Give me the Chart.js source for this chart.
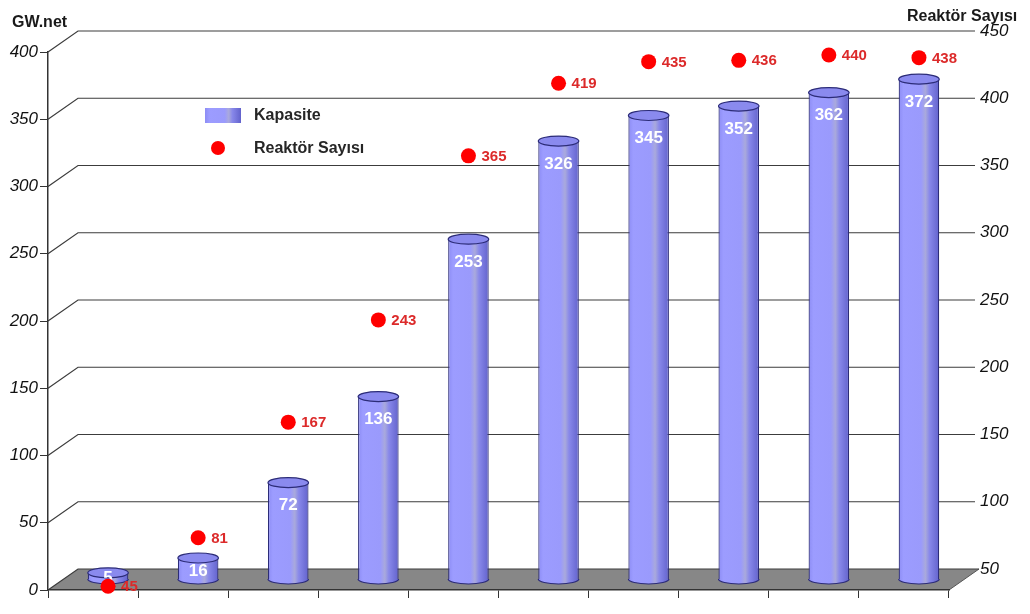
<!DOCTYPE html>
<html>
<head>
<meta charset="utf-8">
<title>Kapasite / Reaktör Sayısı</title>
<script src="https://cdn.jsdelivr.net/npm/chart.js@4.4.0/dist/chart.umd.min.js"></script>
<style>
  html, body { margin: 0; padding: 0; background: #fff; }
  #wrap { width: 1030px; height: 614px; }
</style>
</head>
<body>
<div id="wrap"><canvas id="chart" width="1030" height="614"></canvas></div>
<script>
const years = ['1965', '1970', '1975', '1980', '1985', '1990', '1995', '2000', '2005', '2006']
const capacity = [5, 16, 72, 136, 253, 326, 345, 352, 362, 372]
const reactors = [45, 81, 167, 243, 365, 419, 435, 436, 440, 438]
const gwTicks = [0, 50, 100, 150, 200, 250, 300, 350, 400]
const reactorTicks = [50, 100, 150, 200, 250, 300, 350, 400, 450]

const FONT = "'Liberation Sans', Arial, sans-serif"
// depth of the fake 3d box, bars and dots sit half way in
const DEPTH_X = 30
const DEPTH_Y = -21

const cylGradient = (ctx, x, w) => {
    const g = ctx.createLinearGradient(x - w / 2, 0, x + w / 2, 0)
    g.addColorStop(0, '#8c8cf4')
    g.addColorStop(0.12, '#9c9cff')
    g.addColorStop(0.55, '#9a9afc')
    g.addColorStop(0.66, '#a9a9dc')
    g.addColorStop(0.76, '#8888ea')
    g.addColorStop(1, '#6262cc')
    return g
}

const box3d = {
    id: 'box3d',
    beforeDraw(chart) {
        const { ctx, chartArea: a } = chart
        const y = chart.scales.y
        ctx.save()
        // floor
        ctx.beginPath()
        ctx.moveTo(a.left, a.bottom)
        ctx.lineTo(a.right, a.bottom)
        ctx.lineTo(a.right + DEPTH_X, a.bottom + DEPTH_Y)
        ctx.lineTo(a.left + DEPTH_X, a.bottom + DEPTH_Y)
        ctx.closePath()
        ctx.fillStyle = '#878787'
        ctx.fill()
        ctx.strokeStyle = '#555'
        ctx.lineWidth = 1
        ctx.beginPath()
        ctx.moveTo(a.right, a.bottom)
        ctx.lineTo(a.right + DEPTH_X, a.bottom + DEPTH_Y)
        ctx.stroke()
        // back wall grid
        ctx.strokeStyle = '#3c3c3c'
        ctx.lineWidth = 1.2
        gwTicks.forEach(v => {
            const py = y.getPixelForValue(v)
            ctx.beginPath()
            ctx.moveTo(a.left, py)
            ctx.lineTo(a.left + DEPTH_X, py + DEPTH_Y)
            ctx.lineTo(a.right + DEPTH_X - (v > 0 ? 4 : 0), py + DEPTH_Y)
            ctx.stroke()
        })
        ctx.restore()
    },
    beforeDatasetDraw(chart) {
        chart.ctx.save()
        chart.ctx.translate(DEPTH_X / 2, DEPTH_Y / 2)
    },
    afterDatasetDraw(chart, args) {
        const ctx = chart.ctx
        const meta = args.meta
        if (meta.type === 'bar') {
            meta.data.forEach((bar, i) => {
                const { x, y, base, width } = bar.getProps(['x', 'y', 'base', 'width'], true)
                const rx = width / 2
                const ry = 5
                // rounded bottom
                ctx.beginPath()
                ctx.ellipse(x, base, rx, ry, 0, 0, Math.PI)
                ctx.closePath()
                ctx.fillStyle = cylGradient(ctx, x, width)
                ctx.fill()
                ctx.beginPath()
                ctx.ellipse(x, base, rx, ry, 0, 0, Math.PI)
                ctx.strokeStyle = '#2c2c78'
                ctx.lineWidth = 1.2
                ctx.stroke()
                // top cap
                ctx.beginPath()
                ctx.ellipse(x, y, rx, ry, 0, 0, Math.PI * 2)
                ctx.fillStyle = '#8a8aee'
                ctx.fill()
                ctx.stroke()
                // value
                ctx.font = 'bold 17px ' + FONT
                ctx.fillStyle = '#fff'
                ctx.textAlign = 'center'
                ctx.textBaseline = 'middle'
                const ly = Math.min(y + 23, (y + base) / 2 + 2.5)
                ctx.fillText(String(capacity[i]), x, ly)
            })
        } else {
            ctx.font = 'bold 15px ' + FONT
            ctx.fillStyle = '#dc2a2a'
            ctx.textAlign = 'left'
            ctx.textBaseline = 'middle'
            meta.data.forEach((pt, i) => {
                ctx.fillText(String(reactors[i]), pt.x + 13, pt.y + 1)
            })
        }
        ctx.restore()
    },
    afterDraw(chart) {
        const ctx = chart.ctx
        ctx.save()
        ctx.font = 'bold 16px ' + FONT
        ctx.fillStyle = '#1a1a1a'
        ctx.textBaseline = 'alphabetic'
        ctx.textAlign = 'left'
        ctx.fillText('GW.net', 12, 27)
        ctx.fillText('Reaktör Sayısı', 907, 21)
        // legend
        ctx.fillStyle = cylGradient(ctx, 223, 36)
        ctx.fillRect(205, 108, 36, 15)
        ctx.beginPath()
        ctx.arc(218, 148, 7, 0, Math.PI * 2)
        ctx.fillStyle = '#ff0000'
        ctx.fill()
        ctx.fillStyle = '#262626'
        ctx.textBaseline = 'middle'
        ctx.fillText('Kapasite', 254, 116)
        ctx.fillText('Reaktör Sayısı', 254, 149)
        ctx.restore()
    }
}

const tickFont = { family: FONT, size: 17, style: 'italic' }

new Chart(document.getElementById('chart'), {
    data: {
        labels: years,
        datasets: [{
            type: 'bar',
            label: 'Kapasite',
            data: capacity,
            yAxisID: 'y',
            order: 2,
            clip: false,
            barPercentage: 0.9,
            categoryPercentage: 0.5,
            backgroundColor: (c) => {
                const chart = c.chart
                if (!chart.chartArea) return '#9a9afc'
                const x = chart.scales.x.getPixelForValue(c.dataIndex)
                const w = (chart.chartArea.width / years.length) * 0.45
                return cylGradient(chart.ctx, x, w)
            },
            borderColor: '#2c2c78',
            borderWidth: { left: 1.2, right: 1.2, top: 0, bottom: 0 },
            borderSkipped: false
        }, {
            type: 'line',
            label: 'Reaktör Sayısı',
            data: reactors,
            yAxisID: 'y1',
            order: 1,
            clip: false,
            showLine: false,
            pointRadius: 7.5,
            pointBackgroundColor: '#ff0000',
            pointBorderWidth: 0
        }]
    },
    options: {
        responsive: false,
        animation: false,
        layout: { padding: { top: 52, left: 0, right: 0, bottom: 0 } },
        plugins: {
            legend: { display: false },
            tooltip: { enabled: false }
        },
        scales: {
            x: {
                offset: true,
                grid: { display: true, drawOnChartArea: false, drawTicks: true, tickLength: 8, color: '#333', offset: true },
                border: { display: true, color: '#333', width: 1.5 },
                ticks: { display: false },
                afterFit: s => { s.height = 24 }
            },
            y: {
                position: 'left',
                min: 0,
                max: 400,
                ticks: { stepSize: 50, font: tickFont, color: '#111', padding: 2 },
                grid: { drawOnChartArea: false, drawTicks: true, tickLength: 8, color: '#333' },
                border: { display: true, color: '#333', width: 1.5 },
                afterFit: s => { s.width = 48 }
            },
            y1: {
                position: 'right',
                min: 50,
                max: 450,
                // label gap comes from an invisible tick mark so the
                // vertical padding of the axis stays small
                ticks: { stepSize: 50, font: tickFont, color: '#111', padding: 0, labelOffset: DEPTH_Y },
                grid: { display: false, drawTicks: true, tickLength: 31 },
                border: { display: false },
                afterFit: s => { s.width = 81 }
            }
        }
    },
    plugins: [box3d]
})
</script>
</body>
</html>
